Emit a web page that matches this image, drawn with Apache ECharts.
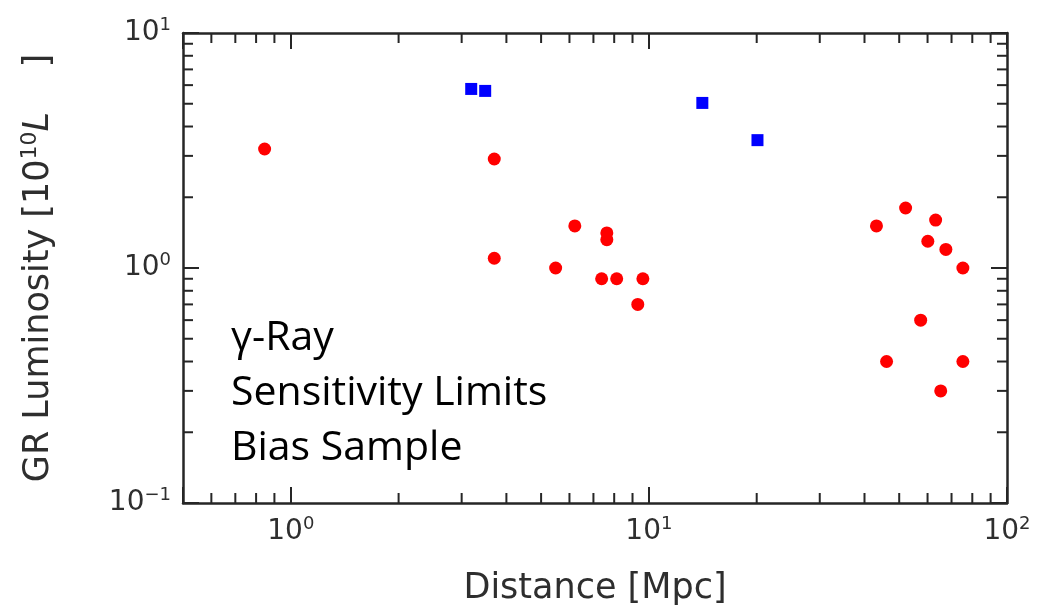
<!DOCTYPE html>
<html>
<head>
<meta charset="utf-8">
<script src="https://cdn.jsdelivr.net/npm/echarts@6/dist/echarts.min.js"></script>
<style>html,body{margin:0;padding:0;background:#fff}#c{width:1037px;height:614px}</style>
</head>
<body>
<div id="c"></div>
<script>
// Data (distance in Mpc, luminosity in 1e10 L_sun)
const redDistance = [0.845, 3.70, 3.70, 5.49, 6.21, 7.63, 7.63, 7.38, 8.13, 9.62, 9.31,
                     43.2, 52.1, 63.2, 60.1, 67.5, 75.3, 57.4, 46.1, 75.3, 65.3];
const redLuminosity = [3.21, 2.91, 1.10, 1.00, 1.51, 1.41, 1.32, 0.90, 0.90, 0.90, 0.70,
                       1.51, 1.80, 1.60, 1.30, 1.20, 1.00, 0.60, 0.40, 0.40, 0.30];
const blueDistance = [3.19, 3.49, 14.1, 20.1];
const blueLuminosity = [5.78, 5.67, 5.04, 3.50];

const xRange = [0.5, 100];
const yRange = [0.1, 10];
const xMinorTicks = [0.6, 0.7, 0.8, 0.9, 2, 3, 4, 5, 6, 7, 8, 9, 20, 30, 40, 50, 60, 70, 80, 90];
const yMinorTicks = [0.2, 0.3, 0.4, 0.5, 0.6, 0.7, 0.8, 0.9, 2, 3, 4, 5, 6, 7, 8, 9];
const xTitle = 'Distance [Mpc]';
const yTitleParts = ['GR Luminosity [10', '10', 'L', '    ]'];
const annotationLines = ['γ-Ray', 'Sensitivity Limits', 'Bias Sample'];

const AX = '#262626';
const TXT = '#2e2e2e';
const MINOR_LEN = 10;

function powLabel(v) {
  const l = Math.log10(v);
  const e = Math.round(l);
  if (Math.abs(l - e) > 1e-6) return '';
  const es = e < 0 ? '\u2212' + (-e) : String(e);
  return '{b|10}{s|' + es + '}';
}
const labelRich = {
  b: {fontFamily: 'DejaVu Sans', fontSize: 28, color: TXT},
  s: {fontFamily: 'DejaVu Sans', fontSize: 18, color: TXT, padding: [0, 0, 15, 0]}
};
const baseAxis = {
  type: 'log', logBase: 10,
  axisLine: {show: true, lineStyle: {color: AX, width: 2.5}},
  axisTick: {show: true, inside: true, length: 16, lineStyle: {color: AX, width: 2}},
  splitLine: {show: false}
};

const chart = echarts.init(document.getElementById('c'), null, {renderer: 'canvas'});

function minorTickItem(isX) {
  return function (params, api) {
    const v = api.value(isX ? 0 : 1);
    let a, b, children;
    const st = {stroke: AX, lineWidth: 2};
    if (isX) {
      a = api.coord([v, yRange[0]]);
      b = api.coord([v, yRange[1]]);
      children = [
        {type: 'line', shape: {x1: a[0], y1: a[1], x2: a[0], y2: a[1] - MINOR_LEN}, style: st},
        {type: 'line', shape: {x1: b[0], y1: b[1], x2: b[0], y2: b[1] + MINOR_LEN}, style: st}
      ];
    } else {
      a = api.coord([xRange[0], v]);
      b = api.coord([xRange[1], v]);
      children = [
        {type: 'line', shape: {x1: a[0], y1: a[1], x2: a[0] + MINOR_LEN, y2: a[1]}, style: st},
        {type: 'line', shape: {x1: b[0], y1: b[1], x2: b[0] - MINOR_LEN, y2: b[1]}, style: st}
      ];
    }
    return {type: 'group', children: children};
  };
}

chart.setOption({
  animation: false,
  backgroundColor: '#ffffff',
  grid: {left: 183, right: 30, top: 33, bottom: 111, containLabel: false},
  xAxis: [
    Object.assign({}, baseAxis, {
      min: xRange[0], max: xRange[1], position: 'bottom',
      name: xTitle, nameLocation: 'middle', nameGap: 68,
      nameTextStyle: {fontFamily: 'DejaVu Sans', fontSize: 35, color: TXT},
      axisLabel: {formatter: powLabel, rich: labelRich, margin: 12, showMinLabel: true, showMaxLabel: true}
    }),
    Object.assign({}, baseAxis, {
      min: xRange[0], max: xRange[1], position: 'top',
      axisLabel: {show: false}
    })
  ],
  yAxis: [
    Object.assign({}, baseAxis, {
      min: yRange[0], max: yRange[1], position: 'left',
      name: '{t|' + yTitleParts[0] + '}{s|' + yTitleParts[1] + '}{i|' + yTitleParts[2] + '}{t|' + yTitleParts[3] + '}',
      nameLocation: 'middle', nameGap: 124,
      nameTextStyle: {
        color: TXT,
        rich: {
          t: {fontFamily: 'DejaVu Sans', fontSize: 35, color: TXT},
          s: {fontFamily: 'DejaVu Sans', fontSize: 22, color: TXT, padding: [0, 0, 18, 0]},
          i: {fontFamily: 'DejaVu Sans', fontSize: 35, fontStyle: 'italic', color: TXT}
        }
      },
      axisLabel: {formatter: powLabel, rich: labelRich, margin: 12, showMinLabel: true, showMaxLabel: true}
    }),
    Object.assign({}, baseAxis, {
      min: yRange[0], max: yRange[1], position: 'right',
      axisLabel: {show: false}
    })
  ],
  series: [
    {
      type: 'custom', xAxisIndex: 0, yAxisIndex: 0, silent: true, clip: false,
      renderItem: minorTickItem(true),
      data: xMinorTicks.map(v => [v, 1]), z: 1
    },
    {
      type: 'custom', xAxisIndex: 0, yAxisIndex: 0, silent: true, clip: false,
      renderItem: minorTickItem(false),
      data: yMinorTicks.map(v => [1, v]), z: 1
    },
    {
      type: 'scatter', xAxisIndex: 0, yAxisIndex: 0,
      symbol: 'circle', symbolSize: 13,
      itemStyle: {color: '#ff0000', opacity: 1},
      data: redDistance.map((d, i) => [d, redLuminosity[i]]), z: 3
    },
    {
      type: 'scatter', xAxisIndex: 0, yAxisIndex: 0,
      symbol: 'rect', symbolSize: 12,
      itemStyle: {color: '#0000ff', opacity: 1},
      data: blueDistance.map((d, i) => [d, blueLuminosity[i]]), z: 3
    }
  ],
  graphic: [{
    type: 'text', left: 231, top: 311, z: 10,
    style: {
      text: annotationLines.join('\n'),
      font: '41px "Open Sans"',
      fill: '#000000',
      lineHeight: 55
    }
  }]
});
</script>
</body>
</html>
